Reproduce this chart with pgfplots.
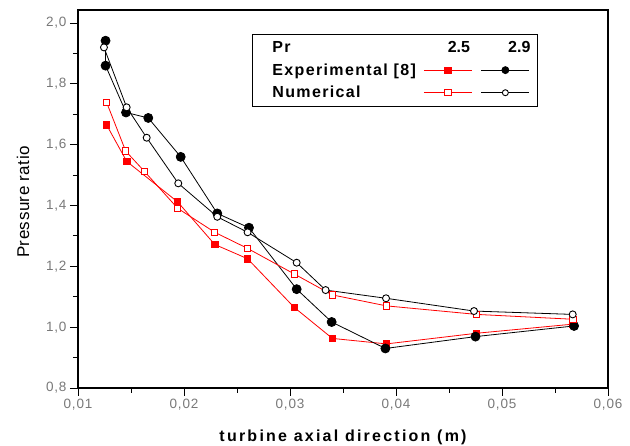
\documentclass[border=0pt]{standalone}
\usepackage{fontspec}
\setmainfont{Liberation Sans}
\usepackage{pgfplots}
\pgfplotsset{compat=1.18}
\definecolor{tickgray}{RGB}{120,120,120}
\pgfplotsset{
  redleg/.style={legend image code/.code={\path[draw=none] (0pt,0pt) rectangle (54pt,1pt); \draw[line width=0.8pt,mark repeat=2,mark phase=2,##1] plot coordinates {(6pt,0pt) (30pt,0pt) (54pt,0pt)};}},
  blackleg/.style={legend image code/.code={\path[draw=none] (0pt,0pt) rectangle (52pt,1pt); \draw[line width=0.8pt,mark repeat=2,mark phase=2,##1,mark size=#1] plot coordinates {(4pt,0pt) (28pt,0pt) (52pt,0pt)};}},
}
\begin{document}
\begin{tikzpicture}
\begin{axis}[
  at={(0pt,0pt)}, anchor=south west,
  scale only axis, width=530pt, height=378pt,
  xmin=0.01, xmax=0.06, ymin=0.8, ymax=2.043,
  xtick={0.01,0.02,0.03,0.04,0.05,0.06},
  ytick={0.8,1.0,1.2,1.4,1.6,1.8,2.0},
  minor x tick num=1, minor y tick num=1,
  xtick pos=bottom, ytick pos=left,
  tick align=outside,
  major tick length=8pt, minor tick length=5pt,
  axis line style={line width=1.2pt},
  every tick/.style={black, line width=0.9pt},
  scaled x ticks=false,
  xticklabel style={/pgf/number format/.cd, fixed, fixed zerofill, precision=2, use comma, assume math mode=true},
  yticklabel style={/pgf/number format/.cd, fixed, fixed zerofill, precision=1, use comma, assume math mode=true},
  tick label style={font=\fontsize{13.5}{15}\selectfont\addfontfeatures{LetterSpace=6}, text=tickgray},
  xlabel={turbine axial direction (m)},
  ylabel={Pressure ratio},
  every axis x label/.style={at={(rel axis cs:0.5,0)}, yshift=-49pt, anchor=center, font=\fontsize{16}{18}\selectfont\bfseries\addfontfeatures{LetterSpace=14}},
  every axis y label/.style={at={(rel axis cs:0,0.492)}, xshift=-55pt, rotate=90, anchor=center, font=\fontsize{17}{19}\selectfont\addfontfeatures{LetterSpace=3}},
  legend columns=3,
  legend style={at={(rel axis cs:0.328,0.937)}, anchor=north west,
    draw=black, line width=1.2pt, inner xsep=4pt, inner ysep=7pt,
    font=\fontsize{16}{18}\selectfont\bfseries\addfontfeatures{LetterSpace=8.5},
    column sep=2pt, row sep=9.5pt,
    nodes={inner sep=0pt}},
  legend cell align=left,
  redleg,
]
% legend header row
\addlegendimage{legend image code/.code={\path[draw=none] (0pt,0pt) rectangle (14pt,1pt);}}
\addlegendentry{Pr}
\addlegendimage{legend image code/.code={\path[draw=none] (0pt,0pt) rectangle (54pt,1pt); \node[font=\fontsize{16}{18}\selectfont\bfseries, anchor=center, inner sep=0pt] at (41pt,0pt) {2.5};}}
\addlegendentry{}
\addlegendimage{legend image code/.code={\path[draw=none] (0pt,0pt) rectangle (52pt,1pt); \node[font=\fontsize{16}{18}\selectfont\bfseries, anchor=center, inner sep=0pt] at (42pt,0pt) {2.9};}}
\addlegendentry{}
% row 2
\addlegendimage{legend image code/.code={\path[draw=none] (0pt,0pt) rectangle (14pt,1pt);}}
\addlegendentry{Experimental [8]}
\addplot[red, line width=0.8pt, mark=square*, mark size=3.2pt, mark options={solid, fill=red}] coordinates {
(0.0127,1.665) (0.0146,1.545) (0.0194,1.412) (0.0229,1.272) (0.0260,1.225)
(0.0304,1.065) (0.0340,0.963) (0.0391,0.945) (0.0476,0.980) (0.0567,1.010)};
\addlegendentry{}
\addplot[black, line width=0.8pt, mark=*, mark size=4.5pt, mark options={solid, fill=black}, blackleg=3.5pt] coordinates {
(0.0126,1.942) (0.0126,1.860) (0.01453,1.706) (0.01663,1.688) (0.01969,1.560)
(0.02314,1.374) (0.02613,1.327) (0.03063,1.125) (0.03393,1.017) (0.0390,0.930)
(0.0475,0.969) (0.0568,1.004)};
\addlegendentry{}
% row 3
\addlegendimage{legend image code/.code={\path[draw=none] (0pt,0pt) rectangle (14pt,1pt);}}
\addlegendentry{Numerical}
\addplot[red, line width=0.8pt, mark=square*, mark size=3.2pt, mark options={solid, fill=white, line width=1pt}] coordinates {
(0.0127,1.739) (0.0145,1.579) (0.0163,1.511) (0.0194,1.391) (0.0229,1.312)
(0.0260,1.259) (0.0304,1.175) (0.0340,1.106) (0.0391,1.070) (0.0476,1.042)
(0.0567,1.026)};
\addlegendentry{}
\addplot[black, line width=0.8pt, mark=*, mark size=3.5pt, mark options={solid, fill=white, line width=0.9pt}, blackleg=3pt] coordinates {
(0.01245,1.920) (0.01459,1.723) (0.01648,1.623) (0.01946,1.473) (0.02314,1.363)
(0.0260,1.312) (0.03063,1.212) (0.03336,1.122) (0.03906,1.095) (0.04736,1.053)
(0.05667,1.042)};
\addlegendentry{}
\end{axis}
\pgfresetboundingbox
\path (-78pt,-58pt) rectangle (552pt,388pt);
\end{tikzpicture}
\end{document}
